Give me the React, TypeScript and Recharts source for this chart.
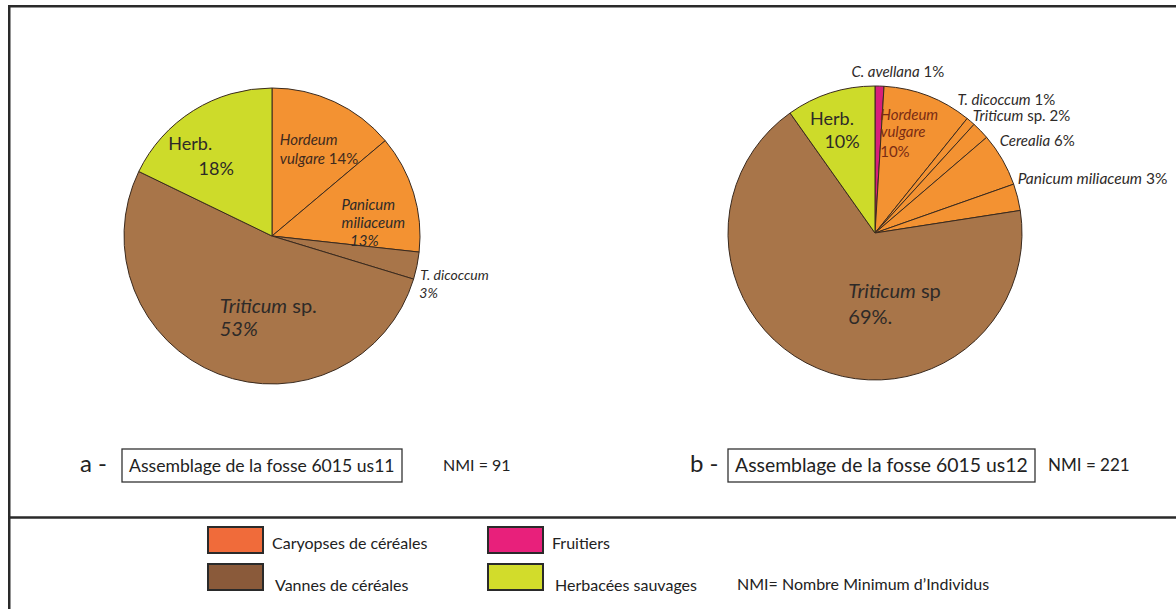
import React from "react";
import { PieChart, Pie, Cell } from "recharts";

// assemblage a - fosse 6015 us11
const namesA = ["Hordeum vulgare", "Panicum miliaceum", "T. dicoccum", "Triticum sp.", "Herb."];
const valuesA = [14, 13, 3, 53, 18];
const groupsA = ["cereal", "cereal", "chaff", "chaff", "herb"];

// assemblage b - fosse 6015 us12
const namesB = [
  "C. avellana",
  "Hordeum vulgare",
  "T. dicoccum",
  "Triticum sp.",
  "Cerealia",
  "Panicum miliaceum",
  "Triticum sp",
  "Herb.",
];
const valuesB = [1, 10, 1, 2, 6, 3, 69, 10];
const groupsB = ["fruit", "cereal", "cereal", "cereal", "cereal", "cereal", "chaff", "herb"];

const legendGroups = ["cereal", "fruit", "chaff", "herb"];
const legendLabels = ["Caryopses de céréales", "Fruitiers", "Vannes de céréales", "Herbacées sauvages"];

const sliceColor: Record<string, string> = {
  cereal: "#F39232",
  chaff: "#A87549",
  herb: "#CDDB2A",
  fruit: "#D8207A",
};
const legendColor: Record<string, string> = {
  cereal: "#F06B3A",
  chaff: "#8A5A3A",
  herb: "#D2DC2B",
  fruit: "#E8207B",
};

const FONT = "Lato, 'Open Sans', sans-serif";
const RAD = Math.PI / 180;

type Line = { dx: number; dy: number; t: string };
type Lay = { k: number; anchor: "start" | "middle"; fs: number; fill?: string; lines: Line[] };

// label placement: radial factor + nudges, text with *italic* parts, {v} = value
const layoutA: Lay[] = [
  { k: 0.62, anchor: "start", fs: 15, fill: "#3f2a1e", lines: [{ dx: -31, dy: -8, t: "*Hordeum*" }, { dx: -31, dy: 11, t: "*vulgare* {v}%" }] },
  { k: 0.68, anchor: "middle", fs: 15, lines: [{ dx: 0, dy: 3, t: "*Panicum*" }, { dx: 5, dy: 21, t: "*miliaceum*" }, { dx: -4, dy: 39, t: "*{v}%*" }] },
  { k: 1.03, anchor: "start", fs: 14, lines: [{ dx: -1, dy: 13, t: "*T. dicoccum*" }, { dx: -2, dy: 31, t: "*{v}%*" }] },
  { k: 0.58, anchor: "start", fs: 20, lines: [{ dx: -21, dy: -3, t: "*Triticum* sp." }, { dx: -21, dy: 20, t: "*{v}%*" }] },
  { k: 0.62, anchor: "middle", fs: 18, lines: [{ dx: -33, dy: -8, t: "Herb." }, { dx: -7, dy: 17, t: "{v}%" }] },
];

const layoutB: Lay[] = [
  { k: 1.06, anchor: "middle", fs: 15, lines: [{ dx: 18, dy: 0, t: "*C. avellana* {v}%" }] },
  { k: 0.72, anchor: "start", fs: 15, fill: "#7a2c14", lines: [{ dx: -33, dy: -14, t: "*Hordeum*" }, { dx: -33, dy: 3, t: "*vulgare*" }, { dx: -33, dy: 23, t: "{v}%" }] },
  { k: 1.05, anchor: "start", fs: 15, lines: [{ dx: -18, dy: -11, t: "*T. dicoccum* {v}%" }] },
  { k: 1.05, anchor: "start", fs: 15, lines: [{ dx: -13, dy: -5, t: "*Triticum* sp. {v}%" }] },
  { k: 1.05, anchor: "start", fs: 15, lines: [{ dx: -9, dy: -10, t: "*Cerealia* {v}%" }] },
  { k: 1.05, anchor: "start", fs: 15.5, lines: [{ dx: -7, dy: -11, t: "*Panicum miliaceum* {v}%" }] },
  { k: 0.5, anchor: "start", fs: 20, lines: [{ dx: 2, dy: -3, t: "*Triticum* sp" }, { dx: 2, dy: 23, t: "{v}%." }] },
  { k: 0.65, anchor: "middle", fs: 18, lines: [{ dx: -14, dy: -17, t: "Herb." }, { dx: -4, dy: 6, t: "{v}%" }] },
];

function segs(t: string, v: number) {
  return t
    .replace("{v}", String(v))
    .split("*")
    .map((s, i) => (
      <tspan key={i} fontStyle={i % 2 === 1 ? "italic" : "normal"}>
        {s}
      </tspan>
    ));
}

function makeLabel(layout: Lay[]) {
  return (props: any) => {
    const { cx, cy, midAngle, outerRadius, index, value } = props;
    const lay = layout[index];
    if (!lay) return null;
    const d = outerRadius * lay.k;
    const px = cx + d * Math.cos(-midAngle * RAD);
    const py = cy + d * Math.sin(-midAngle * RAD);
    return (
      <g key={index}>
        {lay.lines.map((ln, i) => (
          <text
            key={i}
            x={px + ln.dx}
            y={py + ln.dy}
            textAnchor={lay.anchor}
            fontSize={lay.fs}
            fontFamily={FONT}
            fill={lay.fill || "#2e2a28"}
          >
            {segs(ln.t, value)}
          </text>
        ))}
      </g>
    );
  };
}

const dataA = namesA.map((name, i) => ({ name, value: valuesA[i], group: groupsA[i] }));
const dataB = namesB.map((name, i) => ({ name, value: valuesB[i], group: groupsB[i] }));

const W = 1168;
const H = 604;

export default function App() {
  return (
    <div style={{ position: "fixed", left: 8, top: 5, width: W, height: H, overflow: "hidden", background: "#fff" }}>
      <div style={{ position: "absolute", left: 0, top: 0 }}>
        <PieChart width={W} height={510} margin={{ top: 0, right: 0, bottom: 0, left: 0 }}>
          <Pie
            data={dataA}
            dataKey="value"
            nameKey="name"
            cx={264}
            cy={231}
            outerRadius={148}
            startAngle={90}
            endAngle={-270}
            stroke="#3a2a1e"
            strokeWidth={1}
            label={makeLabel(layoutA)}
            labelLine={false}
            isAnimationActive={false}
          >
            {dataA.map((d, i) => (
              <Cell key={i} fill={sliceColor[d.group]} />
            ))}
          </Pie>
          <Pie
            data={dataB}
            dataKey="value"
            nameKey="name"
            cx={867}
            cy={228}
            outerRadius={147}
            startAngle={90}
            endAngle={-270}
            stroke="#3a2a1e"
            strokeWidth={1}
            label={makeLabel(layoutB)}
            labelLine={false}
            isAnimationActive={false}
          >
            {dataB.map((d, i) => (
              <Cell key={i} fill={sliceColor[d.group]} />
            ))}
          </Pie>
        </PieChart>
      </div>
      <svg width={W} height={H} style={{ position: "absolute", left: 0, top: 0, pointerEvents: "none" }} fontFamily={FONT}>
        {/* frame */}
        <line x1={1.25} y1={0} x2={1.25} y2={H} stroke="#2a2a2a" strokeWidth={2.5} />
        <line x1={0} y1={1.25} x2={W} y2={1.25} stroke="#2a2a2a" strokeWidth={2.5} />
        <line x1={0} y1={512.5} x2={W} y2={512.5} stroke="#2a2a2a" strokeWidth={2.5} />

        {/* captions */}
        <text x={72} y={467} fontSize={24} fill="#222">a -</text>
        <rect x={114} y={444} width={280} height={33} fill="none" stroke="#333" strokeWidth={1.3} />
        <text x={121} y={467} fontSize={17.6} fill="#222">Assemblage de la fosse 6015 us11</text>
        <text x={435} y={466} fontSize={16} fill="#222">NMI = 91</text>

        <text x={682} y={467} fontSize={24} fill="#222">b -</text>
        <rect x={720} y={444} width={307} height={33} fill="none" stroke="#333" strokeWidth={1.3} />
        <text x={727} y={467} fontSize={19.4} fill="#222">Assemblage de la fosse 6015 us12</text>
        <text x={1040} y={466} fontSize={17} fill="#222">NMI = 221</text>

        {/* legend */}
        {legendGroups.map((g, i) => {
          const col = i % 2;
          const row = Math.floor(i / 2);
          const bx = col === 0 ? 200 : 480;
          const by = row === 0 ? 522 : 559;
          return (
            <g key={g}>
              <rect x={bx} y={by} width={55} height={26} fill={legendColor[g]} stroke="#2a2a2a" strokeWidth={2} />
              <text x={bx + 64 + row * 3} y={by + 22 + row * 5} fontSize={16} fill="#222">
                {legendLabels[i]}
              </text>
            </g>
          );
        })}
        <text x={729} y={585} fontSize={16} fill="#222">NMI= Nombre Minimum d’Individus</text>
      </svg>
    </div>
  );
}
